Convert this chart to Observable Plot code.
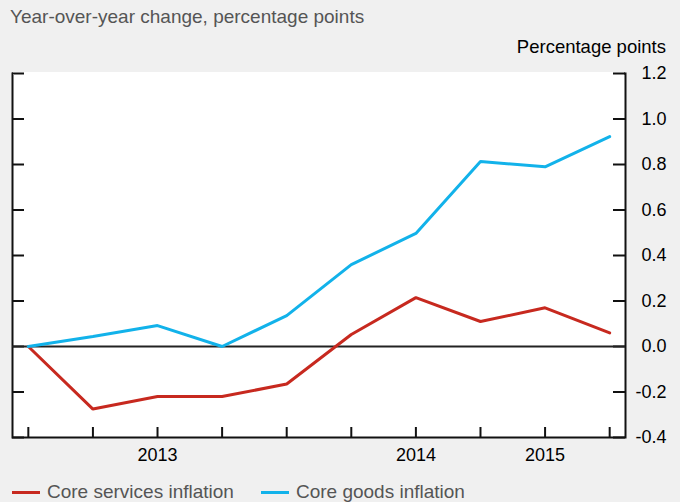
<!DOCTYPE html>
<html>
<head>
<meta charset="utf-8">
<script src="https://cdn.jsdelivr.net/npm/d3@7"></script>
<script src="https://cdn.jsdelivr.net/npm/@observablehq/plot@0.6"></script>
<style>
  html, body { margin: 0; padding: 0; background: #f0f0f0; }
  body { width: 680px; height: 502px; position: relative; overflow: hidden; font-family: "Liberation Sans", Arial, sans-serif; }
  #title { position: absolute; left: 10px; top: 6px; font-size: 19px; line-height: 22px; color: #555; white-space: nowrap; }
  #unit { position: absolute; right: 14px; top: 36px; font-size: 18.5px; line-height: 22px; color: #000; white-space: nowrap; }
  #chart { position: absolute; left: 0; top: 30px; }
  #legend { position: absolute; left: 12px; top: 481px; font-size: 19px; line-height: 22px; color: #555; white-space: nowrap; display: flex; align-items: center; }
  .sw { display: inline-block; width: 28px; height: 3px; margin-right: 7px; }
  .item { display: inline-flex; align-items: center; margin-right: 27px; }
</style>
</head>
<body>
<div id="title">Year-over-year change, percentage points</div>
<div id="unit">Percentage points</div>
<div id="chart"></div>
<div id="legend"></div>
<script>
// Data
const periods = [1, 2, 3, 4, 5, 6, 7, 8, 9, 10];
const periodLabels = ["", "", "2013", "", "", "", "2014", "", "2015", ""];
const coreServices = [0, -0.275, -0.22, -0.22, -0.165, 0.053, 0.215, 0.11, 0.17, 0.06];
const coreGoods = [0, 0.044, 0.092, 0, 0.136, 0.36, 0.497, 0.813, 0.79, 0.923];
const seriesNames = ["Core services inflation", "Core goods inflation"];
const seriesColors = ["#c7291f", "#12b2ea"];
const yTicks = [-0.4, -0.2, 0, 0.2, 0.4, 0.6, 0.8, 1.0, 1.2];

const rows = [];
periods.forEach((p, i) => {
  rows.push({period: p, value: coreServices[i], series: seriesNames[0]});
  rows.push({period: p, value: coreGoods[i], series: seriesNames[1]});
});

const plot = Plot.plot({
  width: 680,
  height: 445,
  marginTop: 43,
  marginBottom: 38,
  marginLeft: 12,
  marginRight: 55,
  style: {background: "transparent", fontFamily: "'Liberation Sans', Arial, sans-serif", fontSize: "18px", color: "#000"},
  x: {type: "point", domain: periods, padding: 0.245, round: false},
  y: {domain: [-0.4, 1.2]},
  color: {domain: seriesNames, range: seriesColors},
  marks: [
    Plot.frame({fill: "white", stroke: "#111", strokeWidth: 2}),
    Plot.ruleY([1.2], {stroke: "white", strokeWidth: 3, insetLeft: 1, insetRight: 1}),
    Plot.tickY(yTicks, {y: d => d, insetRight: 601, stroke: "#111", strokeWidth: 2}),
    Plot.tickY(yTicks, {y: d => d, insetLeft: 601, stroke: "#111", strokeWidth: 2}),
    Plot.tickX(periods, {x: d => d, insetTop: 354, stroke: "#111", strokeWidth: 2}),
    Plot.ruleY([0], {stroke: "#222", strokeWidth: 2}),
    Plot.line(rows, {x: "period", y: "value", z: "series", stroke: "series", strokeWidth: 3, strokeLinejoin: "miter"}),
    Plot.axisY({anchor: "right", ticks: yTicks, tickSize: 0, tickPadding: 41, textAnchor: "end", tickFormat: d => d.toFixed(1), label: null, fontSize: 18}),
    Plot.axisX({anchor: "bottom", ticks: periods.filter((p, i) => periodLabels[i] !== ""), tickSize: 0, tickPadding: 11, tickFormat: p => periodLabels[periods.indexOf(p)], label: null, fontSize: 18})
  ]
});
document.getElementById("chart").appendChild(plot);

const legend = document.getElementById("legend");
seriesNames.forEach((name, i) => {
  const item = document.createElement("span");
  item.className = "item";
  const sw = document.createElement("span");
  sw.className = "sw";
  sw.style.background = seriesColors[i];
  item.appendChild(sw);
  item.appendChild(document.createTextNode(name));
  legend.appendChild(item);
});
</script>
</body>
</html>
